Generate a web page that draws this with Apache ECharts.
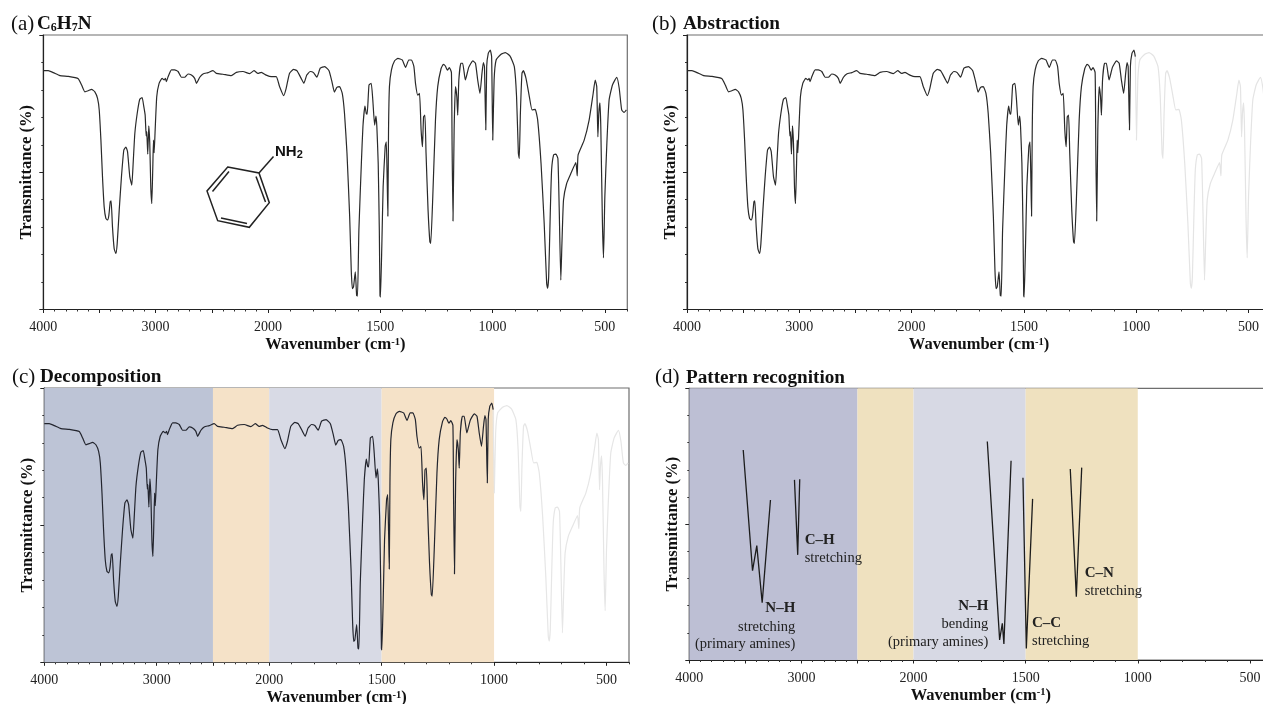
<!DOCTYPE html>
<html><head><meta charset="utf-8">
<style>html,body{margin:0;padding:0;background:#fff}#c{width:1263px;height:704px;overflow:hidden}</style>
<script src="https://cdn.jsdelivr.net/npm/echarts@6/dist/echarts.min.js"></script>
</head><body><div id="c"></div>
<script>
const SERIF = '"Liberation Serif","Times New Roman",serif';
const xTickLabels = [4000, 3000, 2000, 1500, 1000, 500];
const xMajorTicks = [4000, 3500, 3000, 2500, 2000, 1500, 1000, 500];
const spectrumWn = [4000,3956,3911,3852,3778,3689,3659,3630,3600,3570,3541,3517,3502,3487,3473,3458,3443,3428,3416,3404,3396,3384,3369,3354,3342,3324,3304,3283,3265,3250,3230,3212,3200,3185,3164,3141,3120,3105,3093,3084,3079,3070,3061,3052,3043,3034,3025,3019,3013,3004,2990,2969,2942,2924,2913,2904,2889,2859,2830,2800,2770,2741,2711,2681,2652,2637,2607,2578,2533,2489,2459,2400,2326,2281,2222,2163,2124,2089,2059,2015,1985,1963,1948,1930,1919,1904,1886,1871,1852,1840,1827,1812,1797,1782,1767,
1747,1728,1715,1704,1693,1681,1669,1659,1648,1636,1629,1624,1619,1611,1605,1601,1595,1584,1577,1568,1562,1558,1550,1540,1533,1525,1519,1515,1509,1504,1501,1499,1493,1487,1478,1473,1469,1466,1463,1459,1450,
1436,1421,1402,1387,1373,1361,1350,1343,1333,1325,1318,1312,1307,1301,1296,1287,1279,1275,1266,1254,1244,1229,1219,1210,1201,1192,1183,1180,1176,1171,1165,1159,1155,1150,1141,1133,1121,1106,1088,1076,1066,1056,1047,1041,1036,1030,1026,1019,1010,1004,
999,993,984,962,943,922,903,893,885,881,876,869,863,851,836,824,810,799,784,770,759,755,750,743,737,728,718,709,703,696,691,684,670,651,629,623,619,592,570,552,543,536,531,527,522,518,511,506,500,491,481,466,447,436,425,414,404];
const spectrumT = [87.0,87.0,86.3,85.2,84.9,84.1,81.8,79.3,79.7,80.2,79.3,76.9,72.7,61.7,48.4,37.4,33.2,32.6,34.4,39.2,39.6,30.1,22.2,20.4,24.0,36.2,48.4,58.1,59.2,57.5,48.4,45.3,53.2,64.1,71.4,76.6,77.2,73.9,70.8,63.2,64.8,56.6,66.9,60.6,44.7,38.6,51.9,61.7,57.1,65.4,77.5,82.4,84.2,83.6,84.2,83.0,84.8,87.3,87.3,86.7,84.6,84.6,85.8,85.4,84.2,82.4,84.6,85.8,86.3,87.0,86.0,85.7,85.2,86.4,86.7,85.9,87.0,86.0,86.4,85.4,84.8,84.8,81.2,77.9,80.5,86.0,87.5,87.0,84.2,82.4,85.4,86.7,86.3,84.6,87.9,
88.5,87.0,83.0,79.2,80.9,81.2,78.7,71.4,56.9,33.8,14.4,7.6,8.2,13.7,5.1,4.9,28.9,53.2,66.6,74.1,71.4,71.2,81.8,82.4,76.3,67.2,70.5,66.6,53.2,28.9,5.1,4.5,22.8,44.7,59.3,61.1,47.2,34.0,65.4,81.2,87.3,
90.6,91.5,90.9,88.2,90.9,90.9,88.5,82.4,78.1,78.7,65.4,59.3,70.2,70.8,56.9,36.2,24.7,24.1,41.1,69.0,81.2,87.8,89.3,88.7,87.2,88.1,86.3,59.3,32.2,65.4,81.2,77.5,70.8,83.6,89.7,89.7,83.6,88.2,90.6,89.7,83.6,78.7,86.0,89.9,88.5,65.4,88.5,93.3,94.5,92.1,
61.7,83.6,90.9,93.0,93.6,92.3,88.5,77.5,56.9,55.0,71.4,86.0,87.0,84.2,77.5,72.7,72.9,69.0,53.2,31.3,9.5,7.7,11.9,35.0,50.8,56.3,56.6,55.0,36.2,10.7,24.1,39.9,45.9,49.6,53.5,48.7,56.3,61.7,69.0,78.7,83.6,81.2,62.9,71.4,75.3,66.6,32.6,18.8,41.1,60.5,76.3,81.8,84.6,80.6,72.7,71.8,72.7];
const cutoffWn = 1004;
const peakNHStretchWn = [3519,3436,3398,3350,3276];
const peakNHStretchT = [77.3,32.9,42.1,21.1,58.9];
const peakCHWn = [3062,3033,3015];
const peakCHT = [66.3,38.7,66.5];
const peakNHBendWn = [1671,1616,1604,1597,1565];
const peakNHBendT = [80.4,7.4,13.5,5.9,73.3];
const peakCCWn = [1512,1497,1469];
const peakCCT = [67.1,4.2,59.3];
const peakCNWn = [1301,1274,1250];
const peakCNT = [70.3,23.3,70.8];
const bandEdges = [4000,2500,2000,1500,1000];
const bandColorsC = ['#bdc4d6','#f5e2c8','#d8dae5','#f5e2c8'];
const bandColorsD = ['#bdbfd4','#efe1bf','#d7d9e4','#efe1bf'];
const panels = [
  {tag:'(a)', tagX:11, titleX:37, title:'{b|C}{u|6}{b|H}{u|7}{b|N}', left:43.3, top:35, width:584, height:274.5},
  {tag:'(b)', tagX:652, titleX:683, title:'{b|Abstraction}', left:687, top:35, width:584, height:274.5},
  {tag:'(c)', tagX:12, titleX:40, title:'{b|Decomposition}', left:44.3, top:388, width:584.7, height:274.3},
  {tag:'(d)', tagX:655, titleX:686, title:'{b|Pattern recognition}', left:689.3, top:388.3, width:583, height:271.7}
];
const pos = w => w >= 2000 ? 4000 - w : 2000 + (2000 - w) * 2;
const labelAt = {};
xTickLabels.forEach(w => { labelAt[pos(w)] = String(w); });
const minorTicks = [];
for (let w = 3900; w >= 400; w -= 100) if (!xMajorTicks.includes(w)) minorTicks.push(pos(w));
const toPts = (xs, ys) => xs.map((w, i) => [pos(w), ys[i]]);
const fullPts = toPts(spectrumWn, spectrumT);
const darkPts = fullPts.filter((p, i) => spectrumWn[i] >= cutoffWn);
const greyPts = fullPts.filter((p, i) => spectrumWn[i] <= cutoffWn);

const grid = [], xAxis = [], yAxis = [], series = [], title = [];
panels.forEach((p, i) => {
  grid.push({left:p.left, top:p.top, width:p.width, height:p.height, outerBoundsMode:'none', show:true, borderColor:'#6e6e6e', borderWidth:1.2, backgroundColor:'transparent'});
  xAxis.push({type:'value', gridIndex:i, min:0, max:5200, interval:1000, position:'bottom', splitLine:{show:false},
    axisLine:{onZero:false, lineStyle:{color:'#222', width:1.2}},
    axisTick:{length:3.5, customValues:xMajorTicks.map(pos), lineStyle:{color:'#222', width:1}},
    axisLabel:{color:'#222', fontFamily:SERIF, fontSize:14, margin:11, customValues:xTickLabels.map(pos), formatter:v => labelAt[v] || ''},
    name:'Wavenumber (cm{s|-1})', nameLocation:'middle', nameGap:27,
    nameTextStyle:{fontFamily:SERIF, fontWeight:'bold', fontSize:16.5, color:'#111', rich:{s:{fontFamily:SERIF, fontWeight:'bold', fontSize:10.5, color:'#111', verticalAlign:'top', padding:[0,0,6,0]}}}
  });
  xAxis.push({type:'value', gridIndex:i, min:0, max:5200, position:'bottom', splitLine:{show:false},
    axisLine:{show:false, onZero:false}, axisLabel:{show:false},
    axisTick:{show:true, length:2, customValues:minorTicks, lineStyle:{color:'#333', width:1}}
  });
  yAxis.push({type:'value', gridIndex:i, min:0, max:100, interval:50, splitLine:{show:false},
    axisLine:{onZero:false, lineStyle:{color:'#222', width:1.2}},
    axisTick:{length:4, lineStyle:{color:'#222'}},
    minorTick:{show:true, splitNumber:5, length:2, lineStyle:{color:'#333'}},
    minorSplitLine:{show:false},
    axisLabel:{show:false},
    name:'Transmittance (%)', nameLocation:'middle', nameGap:8, nameRotate:90,
    nameTextStyle:{fontFamily:SERIF, fontWeight:'bold', fontSize:16.6, color:'#111'}
  });
  title.push({left:p.tagX, top:p.top-21, padding:0, text:p.tag, textStyle:{fontFamily:SERIF, fontWeight:'normal', fontSize:21, color:'#111'}});
  title.push({left:p.titleX, top:p.top-20, padding:0, text:p.title, textStyle:{rich:{
    b:{fontFamily:SERIF, fontWeight:'bold', fontSize:19.2, color:'#111'},
    u:{fontFamily:SERIF, fontWeight:'bold', fontSize:12, color:'#111', verticalAlign:'bottom', padding:[6,0,0,0]}
  }}});
});
const line = (gi, data, color, width, smooth) => ({type:'line', xAxisIndex:gi*2, yAxisIndex:gi, data, showSymbol:false, symbol:'none', smooth, z:3,
  lineStyle:{color, width}, silent:true});
const bands = (gi, colors) => ({type:'line', xAxisIndex:gi*2, yAxisIndex:gi, data:[], z:1, silent:true,
  markArea:{silent:true, data:colors.map((c, k) => [{xAxis:pos(bandEdges[k]), itemStyle:{color:c, opacity:1}}, {xAxis:pos(bandEdges[k+1])}])}});
const hidden = gi => ({type:'line', xAxisIndex:gi*2+1, yAxisIndex:gi, data:[], silent:true});
series.push(line(0, fullPts, '#2a2a2a', 1.2, 0.15));
series.push(line(1, greyPts, '#e4e4e4', 1.2, 0.15));
series.push(line(1, darkPts, '#2a2a2a', 1.2, 0.15));
series.push(bands(2, bandColorsC));
series.push(line(2, greyPts, '#e6e6e6', 1.2, 0.15));
series.push(line(2, darkPts, '#23252e', 1.2, 0.15));
series.push(bands(3, bandColorsD));
[[peakNHStretchWn,peakNHStretchT],[peakCHWn,peakCHT],[peakNHBendWn,peakNHBendT],[peakCCWn,peakCCT],[peakCNWn,peakCNT]]
  .forEach(([a,b]) => series.push(line(3, toPts(a,b), '#1c1c1c', 1.3, false)));
[0,1,2,3].forEach(g => series.push(hidden(g)));

const note = (x, y, text, bold, align) => ({type:'text', x, y, silent:true, z:10, style:{text, fontFamily:SERIF, fontSize:bold?15:14.5, fontWeight:bold?'bold':'normal', fill:'#222', align, verticalAlign:'middle'}});
const mol = {stroke:'#222', lineWidth:1.5, fill:null};
const graphic = [
  {type:'polygon', silent:true, shape:{points:[[227.7,167],[259,173],[269.3,202.7],[249.3,227.3],[217.7,220.7],[207,191]]}, style:{stroke:'#222', lineWidth:1.5, fill:'transparent'}},
  {type:'line', silent:true, shape:{x1:259,y1:173,x2:273.5,y2:156.5}, style:mol},
  {type:'line', silent:true, shape:{x1:212.5,y1:191.5,x2:229,y2:171.5}, style:mol},
  {type:'line', silent:true, shape:{x1:256,y1:176.5,x2:265.5,y2:202}, style:mol},
  {type:'line', silent:true, shape:{x1:221,y1:218,x2:247,y2:223.5}, style:mol},
  {type:'text', silent:true, x:275, y:152, style:{rich:{n:{fontFamily:'Liberation Sans',fontSize:15,fontWeight:'bold',fill:'#111'},s:{fontFamily:'Liberation Sans',fontSize:11,fontWeight:'bold',fill:'#111',verticalAlign:'bottom',padding:[6,0,0,0]}}, text:'{n|NH}{s|2}', verticalAlign:'middle'}},
  note(795.3,608,'N–H',true,'right'), note(795.3,627,'stretching',false,'right'), note(795.3,644,'(primary amines)',false,'right'),
  note(804.7,540,'C–H',true,'left'), note(804.7,557.7,'stretching',false,'left'),
  note(988.3,606,'N–H',true,'right'), note(988.3,624,'bending',false,'right'), note(988.3,641.7,'(primary amines)',false,'right'),
  note(1032,623,'C–C',true,'left'), note(1032,641,'stretching',false,'left'),
  note(1084.7,572.7,'C–N',true,'left'), note(1084.7,590.7,'stretching',false,'left')
];
const chart = echarts.init(document.getElementById('c'), null, {renderer:'canvas', width:1263, height:704});
chart.setOption({animation:false, backgroundColor:'#fff', grid, xAxis, yAxis, series, title, graphic, tooltip:{show:false}});
</script></body></html>
